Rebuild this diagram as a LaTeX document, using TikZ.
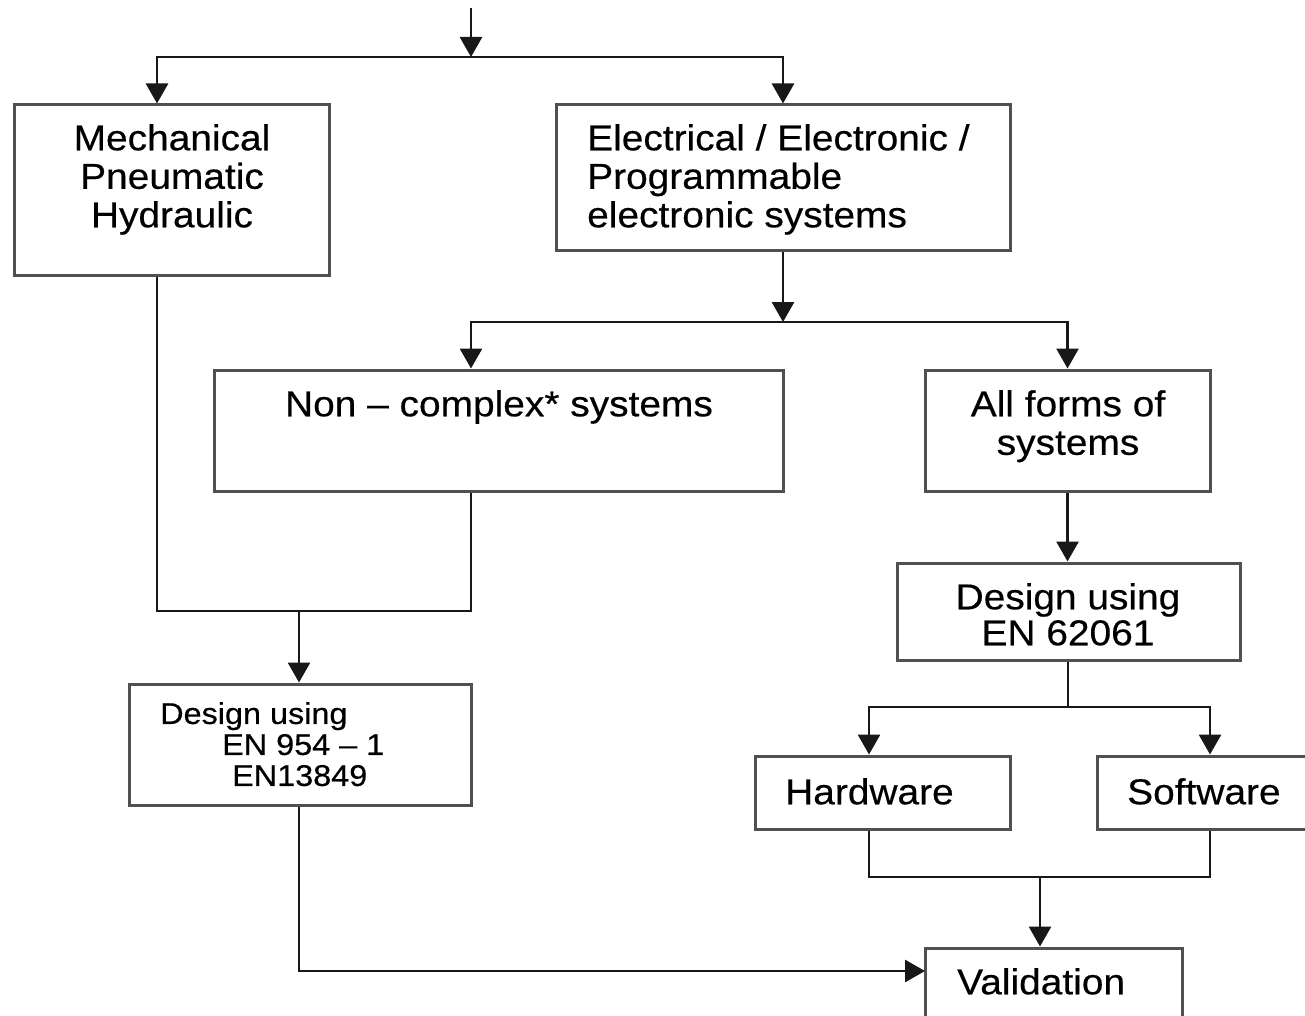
\documentclass[tikz,border=0pt]{standalone}
\usepackage{fontspec}
\setmainfont{Liberation Sans}[FakeStretch=1.08,FakeBold=0.4]
\usetikzlibrary{arrows.meta}
\definecolor{boxc}{HTML}{505050}
\definecolor{linec}{HTML}{181818}
\begin{document}
\begin{tikzpicture}[x=1pt,y=-1pt,
  box/.style={draw=boxc, line width=3pt, fill=white, inner sep=0pt},
  conn/.style={draw=linec, line width=2.8pt},
  arr/.style={conn, -{Triangle[length=20pt,width=22pt]}},
  lbl/.style={inner sep=0pt, font=\fontsize{36}{38.5}\selectfont},
  lblsmall/.style={inner sep=0pt, font=\fontsize{30}{31}\selectfont},
  lblmid/.style={inner sep=0pt, font=\fontsize{36}{36}\selectfont}]
\useasboundingbox (0,0) rectangle (1305,1016);
\clip (0,0) rectangle (1305,1016);

% boxes
\node[box, minimum width=315pt, minimum height=170pt] (mech) at (171.5,190) {};
\node[box, minimum width=454pt, minimum height=145pt] (elec) at (783,177.5) {};
\node[box, minimum width=569pt, minimum height=121pt] (nonc) at (498.5,430.5) {};
\node[box, minimum width=285pt, minimum height=121pt] (allf) at (1067.5,430.5) {};
\node[box, minimum width=343pt, minimum height=97pt] (d62) at (1068.5,611.5) {};
\node[box, minimum width=342pt, minimum height=121pt] (d954) at (300,744.5) {};
\node[box, minimum width=255pt, minimum height=73pt] (hw) at (882.5,792.5) {};
\node[box, minimum width=226pt, minimum height=73pt] (sw) at (1210,792.5) {};
\node[box, minimum width=257pt, minimum height=100pt] (val) at (1053.5,998) {};

% texts
\node[lbl, anchor=north, align=center] (tmech) at (172,124) {Mechanical\\Pneumatic\\Hydraulic};
\node[lbl, anchor=north west, align=left] (telec) at (587,124) {Electrical / Electronic /\\Programmable\\electronic systems};
\node[lbl, anchor=north] (tnonc) at (499,390) {Non – complex* systems};
\node[lbl, anchor=north, align=center] (tallf) at (1068,390) {All forms of\\systems};
\node[lblmid, anchor=north, align=center] (td62) at (1068,583) {Design using\\EN 62061};
\node[lblsmall, anchor=north west, align=left] (td954) at (160,702) {Design using\\\hspace*{62pt}EN 954 – 1\\\hspace*{72pt}EN13849};
\node[lbl, anchor=north west] (thw) at (785,778) {Hardware};
\node[lbl, anchor=north west] (tsw) at (1127,778) {Software};
\node[lbl, anchor=north west] (tval) at (957,968) {Validation};

% coordinates
\coordinate (in) at (471,8);
\coordinate (s1) at (471,57);
\coordinate (s2) at (783,322);
\coordinate (j1) at (299,611);
\coordinate (s3) at (1068,707);
\coordinate (s4) at (1040,877);
\coordinate (vin) at (925,971);
\coordinate (mechdn) at ([xshift=-14.5pt]mech.south);
\coordinate (noncdn) at ([xshift=-27.5pt]nonc.south);
\coordinate (hwdn) at ([xshift=-13.5pt]hw.south);

% connectors
\draw[arr] (in) -- (s1);
\draw[arr] (s1) -| ([xshift=-14.5pt]mech.north);
\draw[arr] (s1) -| (elec.north);
\draw[arr] (elec.south) -- (s2);
\draw[arr] (s2) -| ([xshift=-27.5pt]nonc.north);
\draw[arr] (s2) -| (allf.north);
\draw[conn] (mechdn) -- (mechdn |- j1) -- (noncdn |- j1) -- (noncdn);
\draw[arr] (j1) -- (j1 |- d954.north);
\draw[arr] (allf.south) -- (allf.south |- d62.north);
\draw[conn] (d62.south -| s3) -- (s3);
\draw[arr] (s3) -| ([xshift=-13.5pt]hw.north);
\draw[arr] (s3) -| (sw.north);
\draw[conn] (hwdn) |- (s4) -| (sw.south);
\draw[arr] (s4) -- (val.north -| s4);
\draw[arr] (d954.south -| j1) |- (vin);
\end{tikzpicture}
\end{document}
